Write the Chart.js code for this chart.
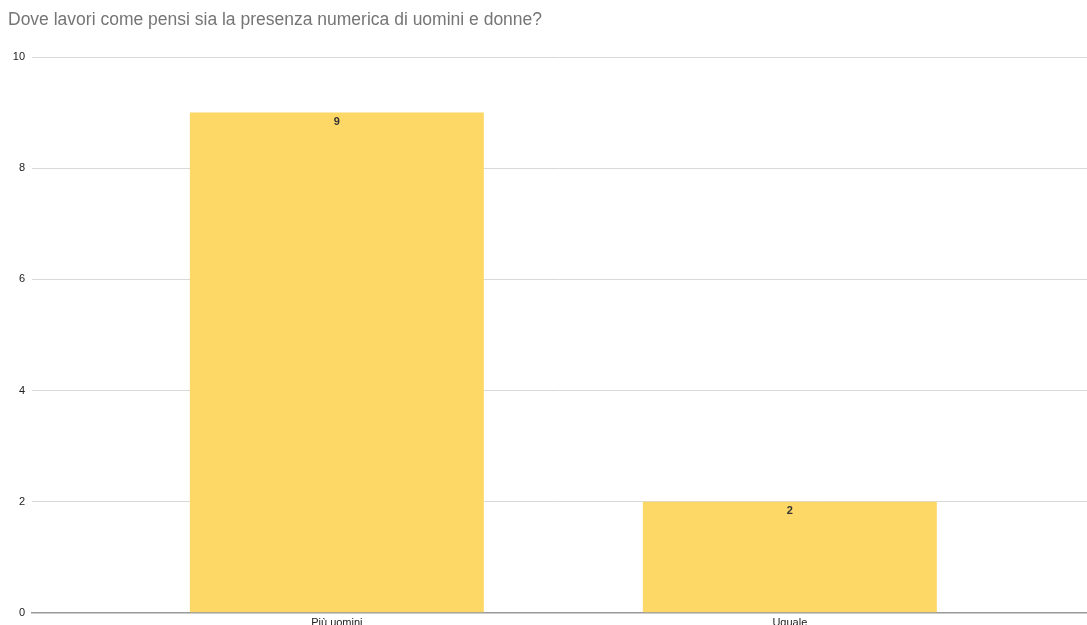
<!DOCTYPE html>
<html lang="it">
<head>
<meta charset="utf-8">
<title>Presenza numerica di uomini e donne</title>
<script src="https://cdn.jsdelivr.net/npm/chart.js@4/dist/chart.umd.min.js"></script>
<style>
  html, body { margin: 0; padding: 0; background: #fff; overflow: hidden; }
  #wrap { width: 1087px; height: 636px; }
</style>
</head>
<body>
<div id="wrap"><canvas id="chart"></canvas></div>
<script>
const titleText = "Dove lavori come pensi sia la presenza numerica di uomini e donne?";
const categories = ["Più uomini", "Uguale"];
const counts = [9, 2];
const yTicks = [0, 2, 4, 6, 8, 10];

// value written just inside the top of each bar
const barValues = {
  id: "barValues",
  afterDatasetsDraw(chart) {
    const { ctx } = chart;
    const meta = chart.getDatasetMeta(0);
    ctx.save();
    ctx.font = "bold 11px 'Liberation Sans', Arial, sans-serif";
    ctx.fillStyle = "#333";
    ctx.textAlign = "center";
    ctx.textBaseline = "middle";
    meta.data.forEach((bar, i) => {
      ctx.fillText(String(counts[i]), bar.x, bar.y + 9);
    });
    ctx.restore();
  }
};

document.addEventListener("DOMContentLoaded", () => {
  const canvas = document.getElementById("chart");

  new Chart(canvas, {
    type: "bar",
    data: {
      datasets: [{
        data: counts.map((v, i) => ({ x: i, y: v })),
        backgroundColor: "#fdd866",
        borderWidth: 0,
        categoryPercentage: 1,
        barPercentage: 0.649
      }]
    },
    options: {
      responsive: true,
      maintainAspectRatio: false,
      animation: false,
      layout: { padding: { left: 8, right: 0, top: 0, bottom: 2 } },
      plugins: {
        legend: { display: false },
        tooltip: { enabled: false },
        title: {
          display: true,
          text: titleText,
          align: "start",
          color: "#757575",
          font: { family: "'Liberation Sans', Arial, sans-serif", size: 17.5, weight: "normal" },
          padding: { top: 9.5, bottom: 26.5 }
        }
      },
      scales: {
        x: {
          type: "linear",
          offset: false,
          min: -0.673,
          max: 1.656,
          afterBuildTicks: (scale) => {
            scale.ticks = categories.map((_, i) => ({ value: i }));
          },
          grid: { display: false, drawTicks: false },
          border: { display: true, color: "#999", width: 1.5 },
          ticks: {
            padding: 4,
            autoSkip: false,
            maxRotation: 0,
            color: "#222",
            font: { family: "'Liberation Sans', Arial, sans-serif", size: 11 },
            callback: (v) => categories[v] ?? ""
          }
        },
        y: {
          min: 0,
          max: 10,
          afterBuildTicks: (scale) => {
            scale.ticks = yTicks.map((v) => ({ value: v }));
          },
          afterFit: (scale) => { scale.width = 24; },
          grid: { color: "#d9d9d9", lineWidth: 1, drawTicks: false },
          border: { display: false },
          ticks: {
            padding: 7,
            color: "#222",
            font: { family: "'Liberation Sans', Arial, sans-serif", size: 11 }
          }
        }
      }
    },
    plugins: [barValues]
  });
});
</script>
</body>
</html>
